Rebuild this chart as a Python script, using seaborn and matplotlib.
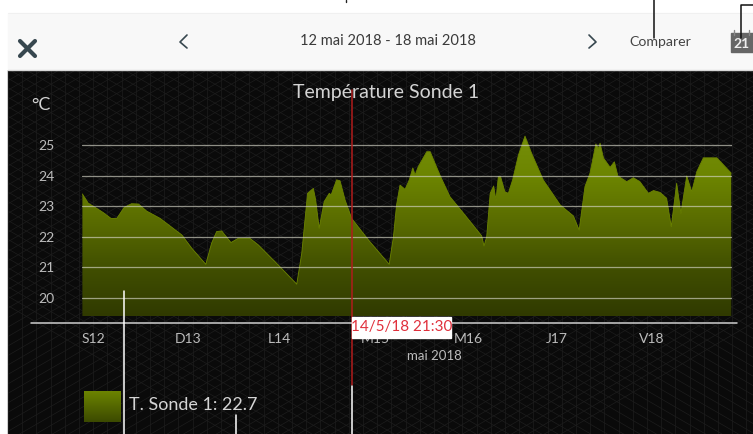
import numpy as np
import pandas as pd
import seaborn as sns
import matplotlib.pyplot as plt
from matplotlib.colors import LinearSegmentedColormap
from matplotlib.patches import Rectangle

# values
hours = [0.1, 1.6, 3.4, 5.5, 7.5, 9.0, 10.9, 12.8, 14.6, 16.7, 20.2, 25.8, 28.4, 32.0, 33.5, 34.8,
         36.1, 38.5, 40.4, 43.4, 45.6, 50.7, 55.5, 56.8, 58.3, 59.8, 60.4, 61.3, 62.6, 63.9, 64.4,
         65.8, 66.7, 68.0, 69.7, 74.0, 79.4, 80.5, 81.3, 82.2, 83.5, 84.6, 85.5, 86.1, 86.9, 89.1,
         90.0, 92.5, 95.1, 98.6, 103.3, 103.9, 104.6, 105.5, 106.4, 107.0, 107.6, 108.2, 109.3,
         110.2, 111.3, 112.8, 114.5, 116.2, 119.2, 123.6, 127.0, 128.5, 130.0, 131.3, 132.8, 133.5,
         133.9, 134.8, 136.5, 137.6, 138.5, 140.8, 142.5, 144.2, 146.4, 147.7, 149.4, 151.1, 152.3,
         153.7, 154.8, 156.3, 157.6, 158.9, 160.6, 164.1, 167.8]
temps = [23.40, 23.10, 22.96, 22.79, 22.60, 22.60, 22.96, 23.08, 23.07, 22.84, 22.60, 22.06, 21.62,
         21.10, 21.79, 22.17, 22.19, 21.81, 21.95, 21.95, 21.73, 21.08, 20.45, 21.46, 23.42, 23.58,
         23.20, 22.28, 23.15, 23.42, 23.37, 23.86, 23.83, 23.20, 22.60, 21.90, 21.10, 22.00, 23.04,
         23.69, 23.55, 23.86, 24.25, 24.02, 24.29, 24.78, 24.78, 24.02, 23.31, 22.77, 22.03, 21.70,
         22.00, 23.42, 23.66, 23.20, 23.96, 23.96, 23.47, 23.42, 23.86, 24.67, 25.29, 24.73, 23.86,
         23.04, 22.68, 22.22, 23.64, 24.08, 25.03, 24.89, 25.06, 24.57, 24.27, 24.45, 23.99, 23.80,
         23.93, 23.80, 23.42, 23.51, 23.45, 23.26, 22.33, 23.75, 22.77, 23.99, 23.47, 24.13, 24.58,
         24.58, 24.08]
day_labels = ['S12', 'D13', 'L14', 'M15', 'M16', 'J17', 'V18']
day_ticks = [0, 24, 48, 72, 96, 120, 144]
temp_ticks = [20, 21, 22, 23, 24, 25]
cursor_hour = 69.75
cursor_label = '14/5/18 21:30'

W, H = 753, 434
sns.set_theme(style='dark')
plt.rcParams['font.family'] = ['Lato', 'DejaVu Sans']
df = pd.DataFrame({'hour': hours, 'temp': temps})

fig = plt.figure(figsize=(W / 100, H / 100), dpi=100, facecolor='white')

# background layer, in pixel coordinates
bg = fig.add_axes([0, 0, 1, 1], zorder=0)
bg.set_xlim(0, W)
bg.set_ylim(H, 0)
bg.axis('off')
bg.add_patch(Rectangle((8, 70), W - 8, H - 70, color='#0a0a0a', zorder=1))
mesh = dict(color='#1d1d1d', lw=0.5, zorder=2, clip_on=True)
clip = Rectangle((8, 70), W - 8, H - 70, transform=bg.transData)
for gx in np.arange(8, W + 14, 14.2):
    bg.plot([gx, gx], [70, H], **mesh)[0].set_clip_path(clip)
for off in np.arange(-400, 1200, 16.4):
    bg.plot([off, off + 630], [70, 434], **mesh)[0].set_clip_path(clip)
    bg.plot([off, off - 630], [70, 434], **mesh)[0].set_clip_path(clip)

# header bar
bg.add_patch(Rectangle((8, 13), W - 8, 56, color='#f8f8f8', zorder=3))
bg.plot([8, W], [69.5, 69.5], color='#d8d8d8', lw=1, zorder=4)
bg.plot([8, W], [13, 13], color='#f0f0f0', lw=0.7, zorder=4)

# chart
ax = fig.add_axes([82 / W, 1 - 316 / H, 650 / W, 216 / H], zorder=1)
ax.patch.set_alpha(0)
cmap = LinearSegmentedColormap.from_list('olive', ['#76900a', '#6c8400', '#586a00', '#404e00', '#303a00'])
grad = ax.imshow(np.linspace(0, 1, 256).reshape(-1, 1), cmap=cmap, aspect='auto',
                 extent=[0, 168, 19.41, 25.4], origin='upper', zorder=1)
area = ax.fill_between(hours, temps, 19.41, color='none', zorder=1)
grad.set_clip_path(area.get_paths()[0], transform=ax.transData)
sns.lineplot(data=df, x='hour', y='temp', color='#6c8400', lw=0.6, ax=ax, zorder=2)
ax.set_xlim(0, 168)
ax.set_ylim(19.41, 26.47)
ax.set_xlabel('')
ax.set_ylabel('')
ax.set_yticks(temp_ticks)
ax.set_xticks(day_ticks)
ax.set_xticklabels(day_labels, ha='left')
ax.tick_params(axis='y', length=0, pad=19.5, labelsize=10, labelcolor='#bcbcbc')
ax.tick_params(axis='x', length=0, pad=12.4, labelsize=10, labelcolor='#bcbcbc')
ax.yaxis.grid(True, color='#d6d6c8', lw=0.9, alpha=0.65, zorder=3)
ax.xaxis.grid(False)
ax.set_axisbelow(False)
sns.despine(ax=ax, left=True, bottom=True)
ax.axvline(cursor_hour, ymin=-0.319, ymax=1.046, color='#b01c1c', lw=1.1, clip_on=False, zorder=4)

# overlay: axis line, labels, header items
top = fig.add_axes([0, 0, 1, 1], zorder=2)
top.set_xlim(0, W)
top.set_ylim(H, 0)
top.axis('off')
top.patch.set_alpha(0)
top.plot([31, 737], [323, 323], color='#cfcfcf', lw=1.1)
top.text(386, 92.5, 'Température Sonde 1', color='#d4d4d4', fontsize=14, ha='center', va='center')
top.text(41, 105, '°C', color='#d4d4d4', fontsize=13, ha='center', va='center')
top.text(434, 356, 'mai 2018', color='#bcbcbc', fontsize=9.5, ha='center', va='center')

top.add_patch(Rectangle((352, 317), 99, 21, color='white', zorder=5))
top.text(401.5, 327.5, cursor_label, color='#e0303c', fontsize=11, ha='center', va='center', zorder=6)

# legend swatch
top.imshow(np.linspace(0, 1, 64).reshape(-1, 1), cmap=LinearSegmentedColormap.from_list('sw', ['#6c8400', '#3c4a00']),
           aspect='auto', extent=[84, 121, 422, 391], zorder=3)
top.set_xlim(0, W)
top.set_ylim(H, 0)
top.text(129, 405, 'T. Sonde 1: 22.7', color='#d4d4d4', fontsize=13, ha='left', va='center')

# callout lines on top of the screenshot
for lx, y0, y1 in [(124, 291, H), (236, 415, H), (352, 386, H)]:
    top.plot([lx, lx], [y0, y1], color='white', lw=1.1, zorder=7)
top.plot([346, 346], [0, 2], color='#222222', lw=1)
top.plot([654, 654], [0, 38], color='#111111', lw=1.1, zorder=7)
top.plot([753, 741, 741], [5, 5, 38], color='#111111', lw=1.1, zorder=7)

# header items
top.plot([20, 35], [41, 56], color='#37474f', lw=3, solid_capstyle='round')
top.plot([35, 20], [41, 56], color='#37474f', lw=3, solid_capstyle='round')
top.plot([187, 180, 187], [35, 42, 48], color='#37474f', lw=1.2)
top.plot([589, 596, 589], [35, 42, 48], color='#37474f', lw=1.2)
top.text(388, 41, '12 mai 2018 - 18 mai 2018', color='#3a3a3a', fontsize=10.5, ha='center', va='center')
top.text(660.5, 42, 'Comparer', color='#444444', fontsize=10.2, ha='center', va='center')
top.add_patch(Rectangle((731, 33), 22, 19, color='#666666', zorder=3))
top.plot([734, 734], [30, 35], color='#888888', lw=1, zorder=4)
top.plot([749, 749], [30, 35], color='#888888', lw=1, zorder=4)
top.text(742, 44, '21', color='#eeeeee', fontsize=10, fontweight='bold', ha='center', va='center', zorder=4)

fig.savefig('out.png', dpi=100)
